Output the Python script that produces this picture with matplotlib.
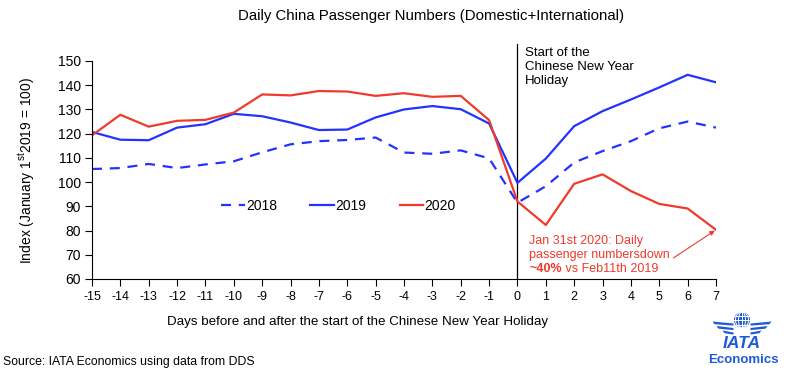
import matplotlib
matplotlib.use("Agg")
import matplotlib.pyplot as plt
from matplotlib.patches import Circle, Polygon
import numpy as np

plt.rcParams['font.family'] = ['Liberation Sans', 'DejaVu Sans']
plt.rcParams['mathtext.fontset'] = 'custom'
plt.rcParams['mathtext.rm'] = 'Liberation Sans'
plt.rcParams['mathtext.it'] = 'Liberation Sans:italic'
plt.rcParams['mathtext.bf'] = 'Liberation Sans:bold'

days = list(range(-15, 8))
y2018 = [105.4, 105.8, 107.5, 105.8, 107.3, 108.6, 112.3, 115.6, 116.9, 117.4, 118.4,
         112.2, 111.7, 113.1, 109.8, 91.5, 98.3, 108.1, 112.8, 116.9, 122.2, 125.0, 122.5]
y2019 = [120.7, 117.5, 117.3, 122.5, 123.9, 128.2, 127.2, 124.6, 121.5, 121.7, 126.7,
         130.0, 131.4, 130.1, 124.2, 99.7, 109.7, 123.1, 129.3, 134.1, 139.1, 144.3, 141.2]
y2020 = [119.3, 127.8, 122.9, 125.3, 125.7, 128.7, 136.2, 135.8, 137.6, 137.4, 135.6,
         136.7, 135.2, 135.6, 125.6, 92.0, 82.3, 99.3, 103.2, 96.3, 91.0, 89.1, 80.3]
series_labels = ['2018', '2019', '2020']

BLUE = '#2233ff'
RED = '#ee3b2b'
LOGO = '#1f5ad8'

fig = plt.figure(figsize=(7.9, 3.68), dpi=100)
ax = fig.add_axes([92/790, 1-279/368, 624/790, 218/368])

ax.plot(days, y2018, color=BLUE, lw=1.6, ls=(0, (4.5, 3.5)), label=series_labels[0])
ax.plot(days, y2019, color=BLUE, lw=1.6, label=series_labels[1])
ax.plot(days, y2020, color=RED, lw=1.6, label=series_labels[2])

ax.set_xlim(-15, 7)
ax.set_ylim(60, 150)
ax.set_xticks(days)
ax.set_xticklabels([str(d) for d in days], fontsize=9)
ax.set_yticks(range(60, 151, 10))
ax.tick_params(axis='y', labelsize=10, direction='out', length=5, width=0.8, pad=3)
ax.tick_params(axis='x', direction='out', length=5, width=0.8, pad=4)
for s in ['top', 'right']:
    ax.spines[s].set_visible(False)
for s in ['left', 'bottom']:
    ax.spines[s].set_linewidth(0.8)

ax.axvline(0, ymin=0, ymax=1.078, color='black', lw=0.9, clip_on=False, zorder=1)
ax.text(0.25, 1.066, 'Start of the\nChinese New Year\nHoliday', transform=ax.get_xaxis_transform(),
        ha='left', va='top', fontsize=9.5, linespacing=1.25)

ax.set_ylabel('Index (January 1$^{\\mathrm{st}}$2019 = 100)', fontsize=10)
ax.yaxis.set_label_coords(-0.088, 0.5)
fig.text(358/790, 1-322/368, 'Days before and after the start of the Chinese New Year Holiday',
         ha='center', va='center', fontsize=9.6)
fig.text(431/790, 1-16/368, 'Daily China Passenger Numbers (Domestic+International)',
         ha='center', va='center', fontsize=10.8)
fig.text(3/790, 1-362/368, 'Source: IATA Economics using data from DDS', ha='left', va='center',
         fontsize=8.8)

leg = ax.legend(loc='center', bbox_to_anchor=(0.395, 0.335), ncol=3, frameon=False, fontsize=10,
                handlelength=1.7, handletextpad=0.1, columnspacing=2.4)

# annotation
ax.text(0.42, 75.5, 'Jan 31st 2020: Daily', color=RED, fontsize=9, va='center', ha='left')
ax.text(0.42, 70.0, 'passenger numbersdown', color=RED, fontsize=9, va='center', ha='left')
t3 = ax.text(0.42, 64.3, '~40%', color=RED, fontsize=9, va='center', ha='left', fontweight='bold')
ax.annotate(' vs Feb11th 2019', xy=(1, 0.5), xycoords=t3, color=RED, fontsize=9,
            va='center', ha='left')
ax.annotate('', xy=(days[-1], y2020[-1]), xytext=(5.5, 68.7),
            arrowprops=dict(arrowstyle='-|>', color=RED, lw=0.8, mutation_scale=7,
                            shrinkA=0, shrinkB=1))

# IATA logo approximation
lax = fig.add_axes([690/790, 0, 100/790, 68/368])
lax.set_xlim(0, 100)
lax.set_ylim(68, 0)
lax.set_axis_off()
cx, cy = 52, 20
lax.add_patch(Circle((cx, cy), 8, facecolor=LOGO, edgecolor='none'))
for dy in (-4.5, 0, 4.5):
    hw = np.sqrt(max(64 - dy**2, 0))
    lax.plot([cx - hw, cx + hw], [cy + dy, cy + dy], color='white', lw=0.7)
for w in (0, 3.5, 6.5):
    t = np.linspace(-np.pi/2, np.pi/2, 40)
    lax.plot(cx + w*np.cos(t), cy + 8*np.sin(t), color='white', lw=0.7)
    lax.plot(cx - w*np.cos(t), cy + 8*np.sin(t), color='white', lw=0.7)
for side in (-1, 1):
    for y0, ln in [(23, 21), (27.5, 17), (32, 11)]:
        x1 = cx + side*8.5
        x2 = cx + side*(8.5 + ln)
        lax.add_patch(Polygon([[x1, y0 + 0.5], [x2, y0 - 1.5], [x2 - side*2, y0 + 1.2], [x1, y0 + 2.6]],
                              closed=True, facecolor=LOGO, edgecolor='none'))
lax.text(cx, 43, 'IATA', color=LOGO, fontsize=12.5, fontweight='bold', fontstyle='italic',
         ha='center', va='center')
lax.text(cx + 1, 60, 'Economics', color=LOGO, fontsize=9.5, fontweight='bold', ha='center', va='center')

fig.savefig('out.png', dpi=100)
